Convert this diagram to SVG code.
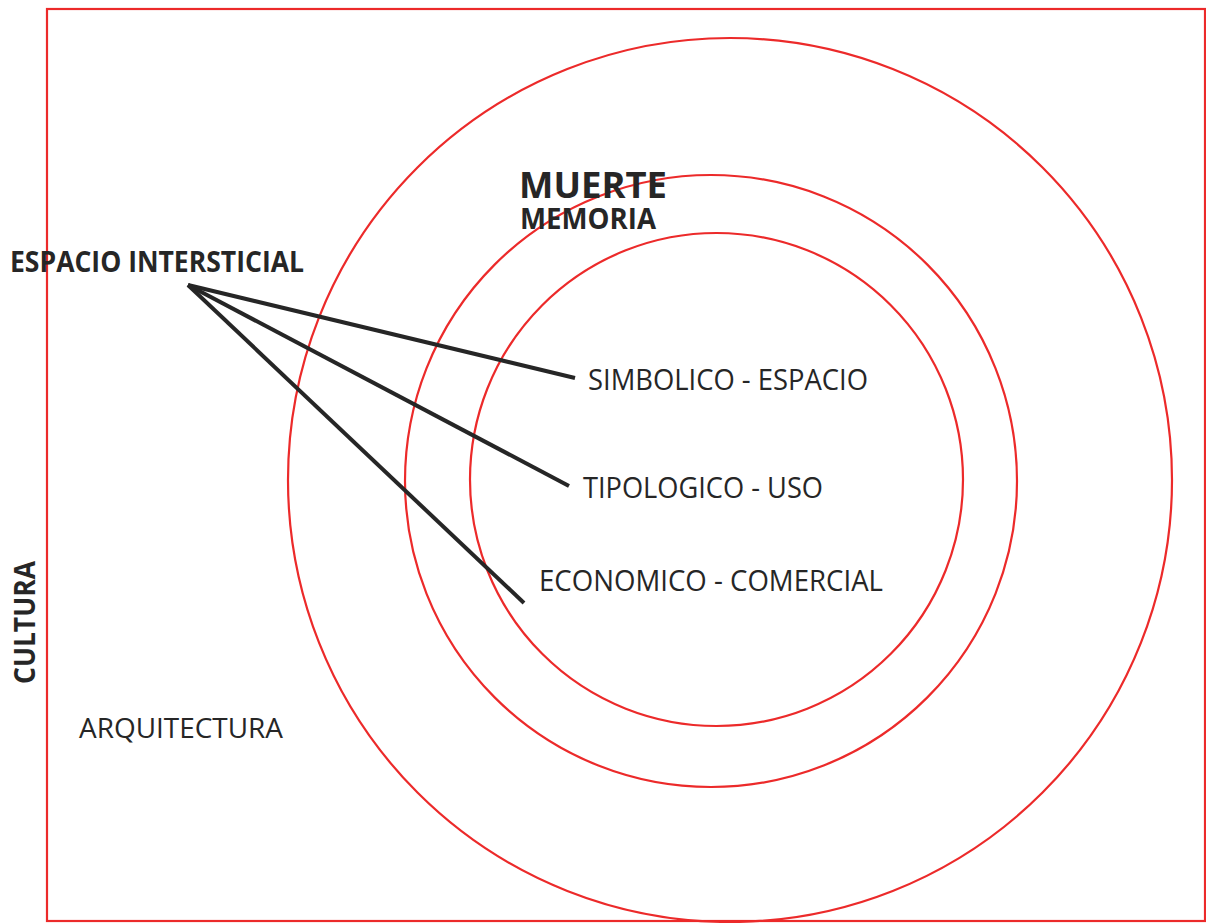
<svg xmlns="http://www.w3.org/2000/svg" width="1206" height="923" viewBox="0 0 1206 923">
<style>
.ring{fill:none;stroke:#ec2a2a;stroke-width:2.2}
.frame{fill:none;stroke:#ec2a2a;stroke-width:2.2}
.con{stroke:#262626;stroke-width:4;stroke-linecap:butt}
.b{font-family:"Open Sans","Noto Sans","Liberation Sans",sans-serif;font-weight:bold;fill:#262626}
.r{font-family:"Open Sans","Noto Sans","Liberation Sans",sans-serif;fill:#262626}
</style>
<rect width="1206" height="923" fill="#ffffff"/>
<rect id="frame" class="frame" x="47" y="9" width="1158" height="912"/>
<g id="rings">
<circle id="outer" class="ring" cx="730" cy="480" r="442"/>
<circle id="middle" class="ring" cx="711" cy="481" r="306"/>
<circle id="inner" class="ring" cx="716.5" cy="479.5" r="246.5"/>
</g>
<g id="connectors">
<line class="con" x1="188" y1="285" x2="575" y2="378"/>
<line class="con" x1="188" y1="285" x2="569" y2="486"/>
<line class="con" x1="188" y1="285" x2="524" y2="603"/>
</g>
<g id="n-muerte"><text class="b" x="519" y="198" font-size="36" textLength="148" lengthAdjust="spacingAndGlyphs">MUERTE</text></g>
<g id="n-memoria"><text class="b" x="520" y="229" font-size="29" textLength="136" lengthAdjust="spacingAndGlyphs">MEMORIA</text></g>
<g id="n-espacio"><text class="b" x="10" y="272" font-size="29" textLength="294" lengthAdjust="spacingAndGlyphs">ESPACIO INTERSTICIAL</text></g>
<g id="n-simbolico"><text class="r" x="588" y="390" font-size="29" textLength="280" lengthAdjust="spacingAndGlyphs">SIMBOLICO - ESPACIO</text></g>
<g id="n-tipologico"><text class="r" x="583" y="498" font-size="29" textLength="240" lengthAdjust="spacingAndGlyphs">TIPOLOGICO - USO</text></g>
<g id="n-economico"><text class="r" x="539" y="591" font-size="29" textLength="344" lengthAdjust="spacingAndGlyphs">ECONOMICO - COMERCIAL</text></g>
<g id="n-arquitectura"><text class="r" x="79" y="738" font-size="28" textLength="204" lengthAdjust="spacingAndGlyphs">ARQUITECTURA</text></g>
<g id="n-cultura"><text class="b" transform="translate(35 684) rotate(-90)" x="0" y="0" font-size="29" textLength="123" lengthAdjust="spacingAndGlyphs">CULTURA</text></g>
</svg>
